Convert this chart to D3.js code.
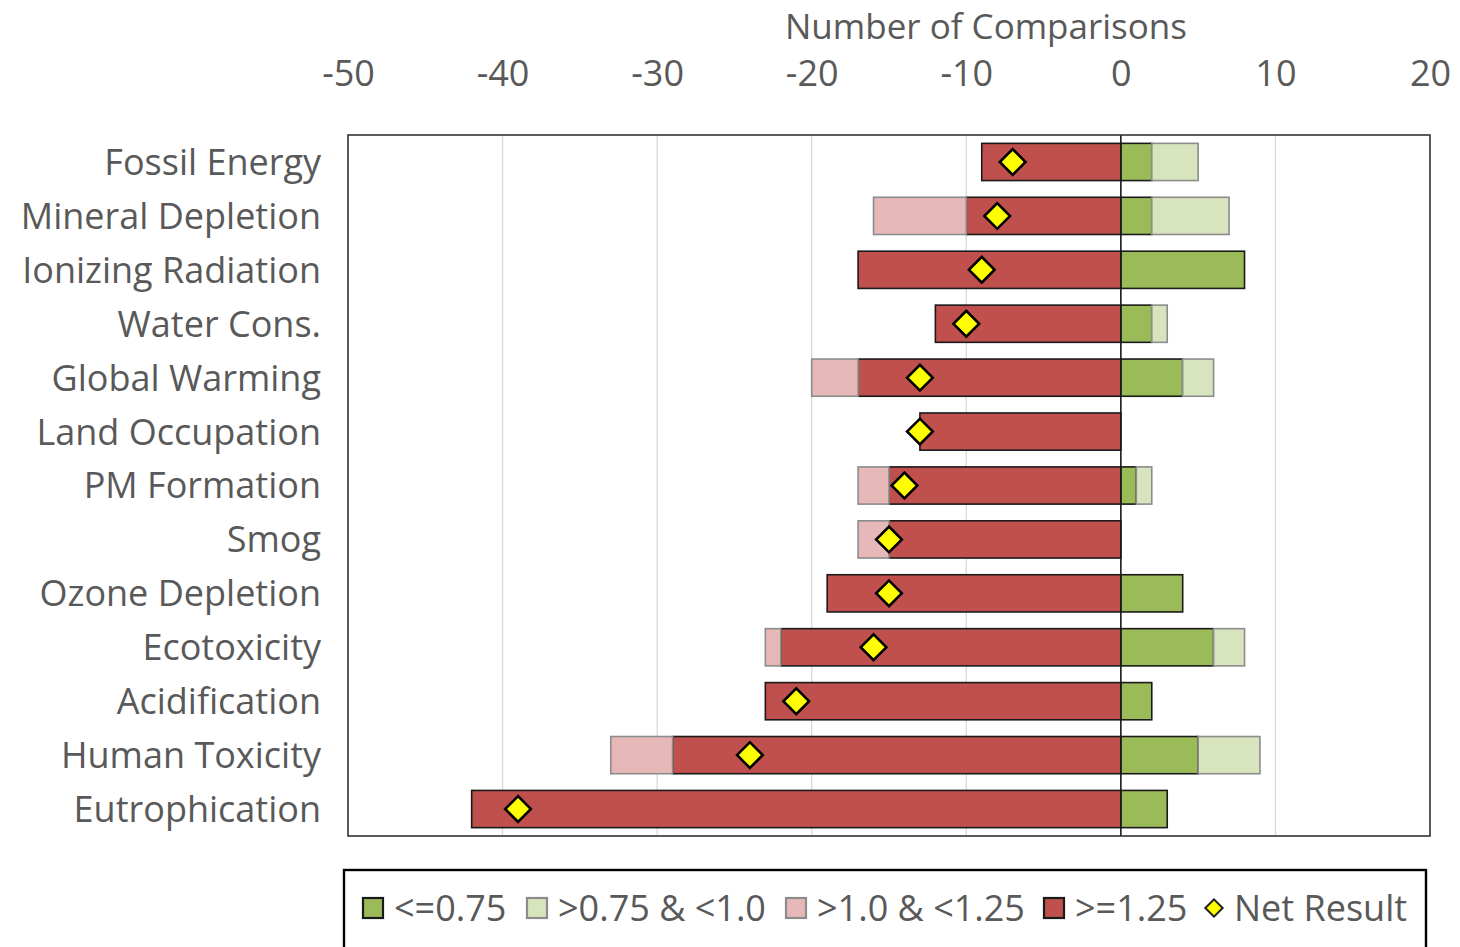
<!DOCTYPE html>
<html><head><meta charset="utf-8">
<script src="https://cdn.jsdelivr.net/npm/d3@7"></script>
<style>body{margin:0;background:#fff;} text{font-family:"Open Sans", Lato, sans-serif;}</style>
</head><body>
<svg id="chart" width="1460" height="947"></svg>
<script>
const categories = ["Fossil Energy","Mineral Depletion","Ionizing Radiation","Water Cons.","Global Warming","Land Occupation","PM Formation","Smog","Ozone Depletion","Ecotoxicity","Acidification","Human Toxicity","Eutrophication"];
const le075 = [2,2,8,2,4,0,1,0,4,6,2,5,3];          // <=0.75
const gt075lt1 = [3,5,0,1,2,0,1,0,0,2,0,4,0];       // >0.75 & <1.0
const gt1lt125 = [0,6,0,0,3,0,2,2,0,1,0,4,0];       // >1.0 & <1.25
const ge125 = [9,10,17,12,17,13,15,15,19,22,23,29,42]; // >=1.25
const netResult = [-7,-8,-9,-10,-13,-13,-14,-15,-15,-16,-21,-24,-39];
const xTicks = [-50,-40,-30,-20,-10,0,10,20];
const legendLabels = ["<=0.75",">0.75 & <1.0",">1.0 & <1.25",">=1.25","Net Result"];

const colors = {g:"#9BBB59", lg:"#D7E4BD", p:"#E6B9B8", r:"#C0504D"};
const txt = "#595959";
const FONT = "'Open Sans', Lato, sans-serif";
const FS = 36;
const svg = d3.select("#chart");
const L=348, R=1430, T=135, B=836;
const x = d3.scaleLinear().domain([-50,20]).range([L,R]);
const y = d3.scaleBand().domain(categories).range([T,B]).paddingInner(0.31).paddingOuter(0.155);

// gridlines
svg.append("g").selectAll("line").data(xTicks.filter(d=>d!==0&&d!==-50&&d!==20)).join("line")
  .attr("x1",d=>x(d)).attr("x2",d=>x(d)).attr("y1",T).attr("y2",B)
  .attr("stroke","#D9D9D9").attr("stroke-width",1.3);

// axis tick labels (top)
const ax = d3.axisTop(x).tickValues(xTicks).tickSize(0).tickPadding(0).tickFormat(d=>String(d));
const axg = svg.append("g").attr("transform",`translate(0,${86})`).call(ax);
axg.select(".domain").remove();
axg.selectAll("text").attr("fill",txt).attr("font-size",FS).attr("dy",0)
  .style("font-family",FONT);

svg.append("text").attr("x",986).attr("y",39).attr("text-anchor","middle")
  .attr("fill",txt).attr("font-size",35).text("Number of Comparisons");

// category labels
const yg = svg.append("g").attr("transform",`translate(${321},0)`).call(d3.axisLeft(y).tickSize(0).tickPadding(0));
yg.select(".domain").remove();
yg.selectAll("text").attr("fill",txt).attr("font-size",FS).attr("dy","0.36em")
  .style("font-family",FONT);

// stacked segments
const segs = [];
categories.forEach((c,i)=>{
  segs.push({c, x0:0, x1:-ge125[i], fill:colors.r, stroke:"#1a1a1a"});
  if (gt1lt125[i]) segs.push({c, x0:-ge125[i], x1:-ge125[i]-gt1lt125[i], fill:colors.p, stroke:"#8c8c8c"});
  if (le075[i]) segs.push({c, x0:0, x1:le075[i], fill:colors.g, stroke:"#1a1a1a"});
  if (gt075lt1[i]) segs.push({c, x0:le075[i], x1:le075[i]+gt075lt1[i], fill:colors.lg, stroke:"#8c8c8c"});
});
svg.append("g").selectAll("rect").data(segs).join("rect")
  .attr("x",d=>Math.min(x(d.x0),x(d.x1))).attr("width",d=>Math.abs(x(d.x1)-x(d.x0)))
  .attr("y",d=>y(d.c)).attr("height",y.bandwidth())
  .attr("fill",d=>d.fill).attr("stroke",d=>d.stroke).attr("stroke-width",1.6);

// zero line
svg.append("line").attr("x1",x(0)).attr("x2",x(0)).attr("y1",T).attr("y2",B)
  .attr("stroke","#1a1a1a").attr("stroke-width",1.6);

// plot border
svg.append("rect").attr("x",L).attr("y",T).attr("width",R-L).attr("height",B-T)
  .attr("fill","none").attr("stroke","#333").attr("stroke-width",1.6);

// diamonds
const dsym = d3.symbol().type(d3.symbolSquare).size(330);
svg.append("g").selectAll("path").data(netResult).join("path")
  .attr("d",dsym)
  .attr("transform",(d,i)=>`translate(${x(d)},${y(categories[i])+y.bandwidth()/2}) rotate(45)`)
  .attr("fill","#FFFF00").attr("stroke","#000").attr("stroke-width",2.6);

// legend
svg.append("rect").attr("x",344).attr("y",870).attr("width",1082).attr("height",90)
  .attr("fill","#fff").attr("stroke","#000").attr("stroke-width",2.4);
const lg = svg.append("g");
const lfills = [colors.g, colors.lg, colors.p, colors.r];
const lstrokes = ["#1a1a1a","#8c8c8c","#8c8c8c","#1a1a1a"];
const lx = [363, 527, 786, 1044, 1203];
legendLabels.forEach((lab,i)=>{
  if (i<4) {
    lg.append("rect").attr("x",lx[i]).attr("y",898).attr("width",20).attr("height",20)
      .attr("fill",lfills[i]).attr("stroke",lstrokes[i]).attr("stroke-width",2.2);
  } else {
    lg.append("path").attr("d",d3.symbol().type(d3.symbolSquare).size(150))
      .attr("transform",`translate(${lx[i]+11},908) rotate(45)`)
      .attr("fill","#FFFF00").attr("stroke","#222").attr("stroke-width",2);
  }
  lg.append("text").attr("x",lx[i]+31).attr("y",921).attr("fill",txt).attr("font-size",FS).text(lab);
});
</script>
</body></html>
